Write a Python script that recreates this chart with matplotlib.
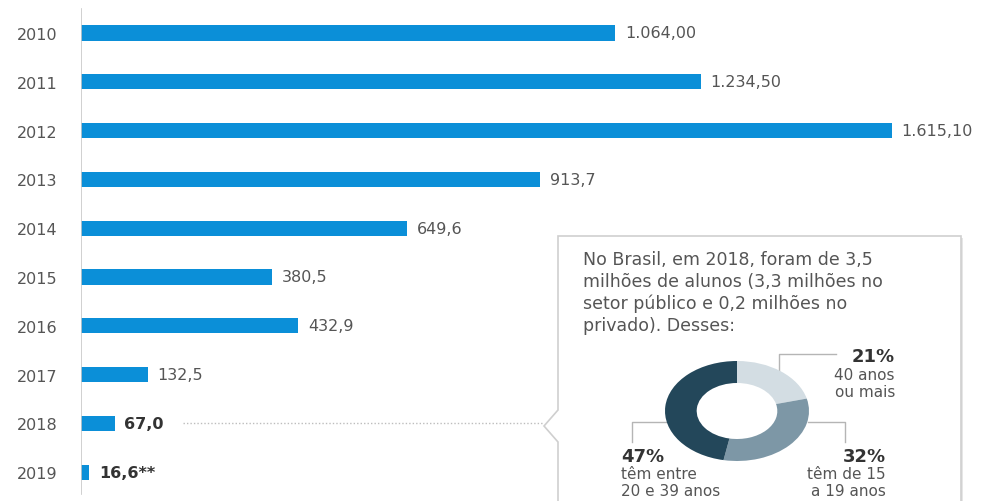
import matplotlib
matplotlib.use("Agg")
import matplotlib.pyplot as plt
from matplotlib.patches import Polygon

plt.rcParams["font.family"] = ["DejaVu Sans"]

# bar data
years = ["2010", "2011", "2012", "2013", "2014", "2015", "2016", "2017", "2018", "2019"]
values = [1064.00, 1234.50, 1615.10, 913.7, 649.6, 380.5, 432.9, 132.5, 67.0, 16.6]
value_labels = ["1.064,00", "1.234,50", "1.615,10", "913,7", "649,6", "380,5",
                "432,9", "132,5", "67,0", "16,6**"]
bold_labels = ["2018", "2019"]

# donut data
age_shares = [21, 32, 47]
age_colors = ["#d3dde3", "#7d97a6", "#23475a"]

box_lines = [
    "No Brasil, em 2018, foram de 3,5",
    "milhões de alunos (3,3 milhões no",
    "setor público e 0,2 milhões no",
    "privado). Desses:",
]

BLUE = "#0b8fd8"
GREY_TXT = "#555555"
DARK_TXT = "#333333"

W, H = 993, 502
fig = plt.figure(figsize=(W / 100, H / 100), dpi=100)

# main bar axes: x=0 at pixel 81, 1615.1 at pixel 892
ax = fig.add_axes([81 / W, 0, (W - 81) / W, 1])
px_per_unit = (892 - 81) / 1615.1
ax.set_xlim(0, (W - 81) / px_per_unit)
row = 48.8
ax.set_ylim((H - 34) / row, -34 / row)
y = list(range(len(years)))
ax.barh(y, values, height=0.31, color=BLUE)
for s in ax.spines.values():
    s.set_visible(False)
ax.axvline(0, ymin=7 / H, ymax=1 - 10 / H, color="#c8c8c8", lw=1.2)
ax.set_xticks([])
ax.set_yticks(y)
ax.set_yticklabels(years, fontsize=11.5, color=GREY_TXT)
ax.tick_params(axis="y", length=0, pad=17)
for yi, v, lab, yr in zip(y, values, value_labels, years):
    bold = yr in bold_labels
    ax.annotate(lab, (v, yi), xytext=(7, 0), textcoords="offset points",
                va="center", ha="left", fontsize=11.5,
                color=DARK_TXT if bold else GREY_TXT,
                fontweight="bold" if bold else "normal")

# overlay in pixel coords for the callout
ov = fig.add_axes([0, 0, 1, 1], facecolor="none")
ov.set_xlim(0, W)
ov.set_ylim(H, 0)
ov.axis("off")

ov.plot([183, 544], [424, 424], color="#bdbdbd", lw=1, ls=(0, (1, 1.5)))
shadow = Polygon([(558, 239), (963, 239), (963, 515), (560, 515), (560, 445),
                  (546, 429), (560, 412)], closed=True, facecolor="#e6e6e6",
                 edgecolor="none")
ov.add_patch(shadow)
box = Polygon([(558, 237), (961, 237), (961, 515), (558, 515), (558, 443),
               (544, 427), (558, 411)], closed=True, facecolor="white",
              edgecolor="#cfcfcf", lw=1.2)
ov.add_patch(box)

for i, line in enumerate(box_lines):
    ov.text(583, 260 + 22 * i, line, fontsize=12.5, color=GREY_TXT,
            ha="left", va="center")

# leader lines
lc = "#b5b5b5"
ov.plot([779, 779, 836], [378, 355, 355], color=lc, lw=1)
ov.plot([808, 845, 845], [423, 423, 443], color=lc, lw=1)
ov.plot([668, 632, 632], [423, 423, 443], color=lc, lw=1)

big = dict(fontsize=13, fontweight="bold", color=DARK_TXT, va="center")
small = dict(fontsize=11, color=GREY_TXT, va="center")
ov.text(895, 357, "21%", ha="right", **big)
ov.text(895, 376, "40 anos", ha="right", **small)
ov.text(895, 393, "ou mais", ha="right", **small)
ov.text(886, 457, "32%", ha="right", **big)
ov.text(886, 475, "têm de 15", ha="right", **small)
ov.text(886, 492, "a 19 anos", ha="right", **small)
ov.text(621, 457, "47%", ha="left", **big)
ov.text(621, 475, "têm entre", ha="left", **small)
ov.text(621, 492, "20 e 39 anos", ha="left", **small)

# donut (stretched like the source)
cx, cy, rx, ry = 737, 412, 72, 50
dax = fig.add_axes([(cx - rx) / W, (H - cy - ry) / H, 2 * rx / W, 2 * ry / H])
dax.pie(age_shares, colors=age_colors, startangle=90, counterclock=False,
        radius=1, wedgeprops=dict(width=0.44, edgecolor="none"))
dax.set_aspect("auto")
dax.set_xlim(-1, 1)
dax.set_ylim(-1, 1)
dax.axis("off")

fig.savefig("out.png", dpi=100)
